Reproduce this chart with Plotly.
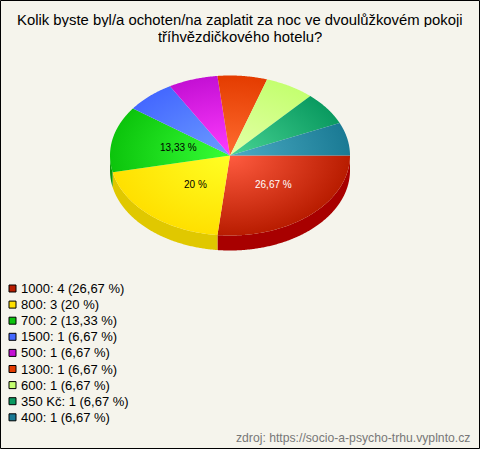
import math
import plotly.graph_objects as go

# --- data ---
categories = ["1000", "800", "700", "1500", "500", "1300", "600", "350 Kč", "400"]
counts = [4, 3, 2, 1, 1, 1, 1, 1, 1]
percent_labels = ["26,67 %", "20 %", "13,33 %", "6,67 %", "6,67 %", "6,67 %", "6,67 %", "6,67 %", "6,67 %"]
inner_colors = ["#ff5c40", "#ffff24", "#36ff36", "#6c9cff", "#ff3cff", "#ff6c30", "#e4ffa8", "#48d494", "#4cacc4"]
outer_colors = ["#b81c00", "#ffe000", "#0cc40c", "#4468ff", "#c410d4", "#e43c00", "#c4ff70", "#0a9a60", "#1a7a94"]
side_colors = ["#a80000", "#e0c800", "#0a9a0a", "#3450c0", "#9000a0", "#b02c00", "#98c850", "#087048", "#105a70"]
slice_label_colors = ["white", "black", "black", None, None, None, None, None, None]
title_lines = ["Kolik byste byl/a ochoten/na zaplatit za noc ve dvoulůžkovém pokoji", "tříhvězdičkového hotelu?"]
source_text = "zdroj: https://socio-a-psycho-trhu.vyplnto.cz"

# --- geometry / style ---
W, H = 480, 449
CX, CY, RX, RY, DEPTH = 230, 155.5, 120, 80, 15
BG = "#f5f4ec"
FONT = "Liberation Sans, Arial, sans-serif"
LABEL_K = 0.48

total = sum(counts)
fig = go.Figure()


def arc(a0, a1, dy=0.0):
    n = max(2, int(abs(a1 - a0) * 2))
    pts = [a0 + (a1 - a0) * i / n for i in range(n + 1)]
    return ([CX + RX * math.cos(math.radians(a)) for a in pts],
            [CY + dy + RY * math.sin(math.radians(a)) for a in pts])


# extruded rim (front half only)
angle = 0.0
for v, col in zip(counts, side_colors):
    a0, a1 = angle, angle + 360 * v / total
    angle = a1
    lo, hi = max(a0, 0), min(a1, 180)
    if lo >= hi:
        continue
    tx, ty = arc(lo, hi)
    bx, by = arc(hi, lo, DEPTH)
    fig.add_trace(go.Scatter(x=tx + bx + tx[:1], y=ty + by + ty[:1], mode="lines", fill="toself",
                             fillcolor=col, line=dict(width=0, color=col, simplify=False),
                             hoverinfo="skip", showlegend=False))

# top faces with a radial gradient centred on the pie: zero-area spikes
# stretch each path's bounding box to the whole ellipse
angle = 0.0
for v, c0, c1, name in zip(counts, inner_colors, outer_colors, categories):
    a0, a1 = angle, angle + 360 * v / total
    angle = a1
    ax, ay = arc(a0, a1)
    xs = [CX, CX + RX, CX, CX - RX, CX, CX, CX, CX, CX] + ax + [CX]
    ys = [CY, CY, CY, CY, CY, CY - RY, CY, CY + RY, CY] + ay + [CY]
    fig.add_trace(go.Scatter(x=xs, y=ys, mode="lines", fill="toself", name=name,
                             line=dict(width=0, color=c1, simplify=False),
                             fillgradient=dict(type="radial", colorscale=[[0, c0], [1, c1]]),
                             hoverinfo="skip", showlegend=False))

annotations = []
# labels on the big slices
angle = 0.0
for v, lab, col in zip(counts, percent_labels, slice_label_colors):
    a0, a1 = angle, angle + 360 * v / total
    angle = a1
    if col is None:
        continue
    m = math.radians((a0 + a1) / 2)
    annotations.append(dict(x=CX + RX * LABEL_K * math.cos(m), y=CY + RY * LABEL_K * math.sin(m),
                            text=lab, showarrow=False, font=dict(family=FONT, size=10, color=col),
                            xanchor="center", yanchor="middle", xshift=4.5))

# legend
LEG_X, LEG_Y0, LEG_STEP = 12.5, 288.5, 16.1
leg_y = [LEG_Y0 + i * LEG_STEP for i in range(len(categories))]
fig.add_trace(go.Scatter(x=[LEG_X] * len(categories), y=leg_y, mode="markers",
                         marker=dict(symbol="square", size=7, color=outer_colors,
                                     line=dict(width=1, color="#000000")),
                         hoverinfo="skip", showlegend=False))
for name, v, lab, y in zip(categories, counts, percent_labels, leg_y):
    annotations.append(dict(x=20, y=y, text=f"{name}: {v} ({lab})", showarrow=False,
                            xanchor="left", yanchor="middle", xshift=-1,
                            font=dict(family=FONT, size=13, color="#000000")))

# title + source
for line, y in zip(title_lines, (19.5, 36)):
    annotations.append(dict(x=W / 2 - 0.5, y=y, text=line, showarrow=False, xanchor="center", yanchor="middle",
                            height=15, borderpad=0,
                            font=dict(family=FONT, size=14.85, color="#000000")))
annotations.append(dict(x=471.5, y=437.5, text=source_text, showarrow=False, xanchor="right", yanchor="middle",
                        font=dict(family=FONT, size=12.2, color="#777777")))

fig.update_layout(
    width=W, height=H, margin=dict(l=0, r=0, t=0, b=0),
    paper_bgcolor=BG, plot_bgcolor=BG, showlegend=False,
    xaxis=dict(range=[0, W], visible=False, fixedrange=True),
    yaxis=dict(range=[H, 0], visible=False, fixedrange=True),
    annotations=annotations,
    shapes=[dict(type="rect", x0=0.5, y0=0.5, x1=W - 0.5, y1=H - 0.5,
                 line=dict(color="#000000", width=1), layer="above")],
)
fig.write_html("out.html", config=dict(displayModeBar=False),
               default_width=f"{W}px", default_height=f"{H}px",
               post_script="document.body.style.margin='0';")
